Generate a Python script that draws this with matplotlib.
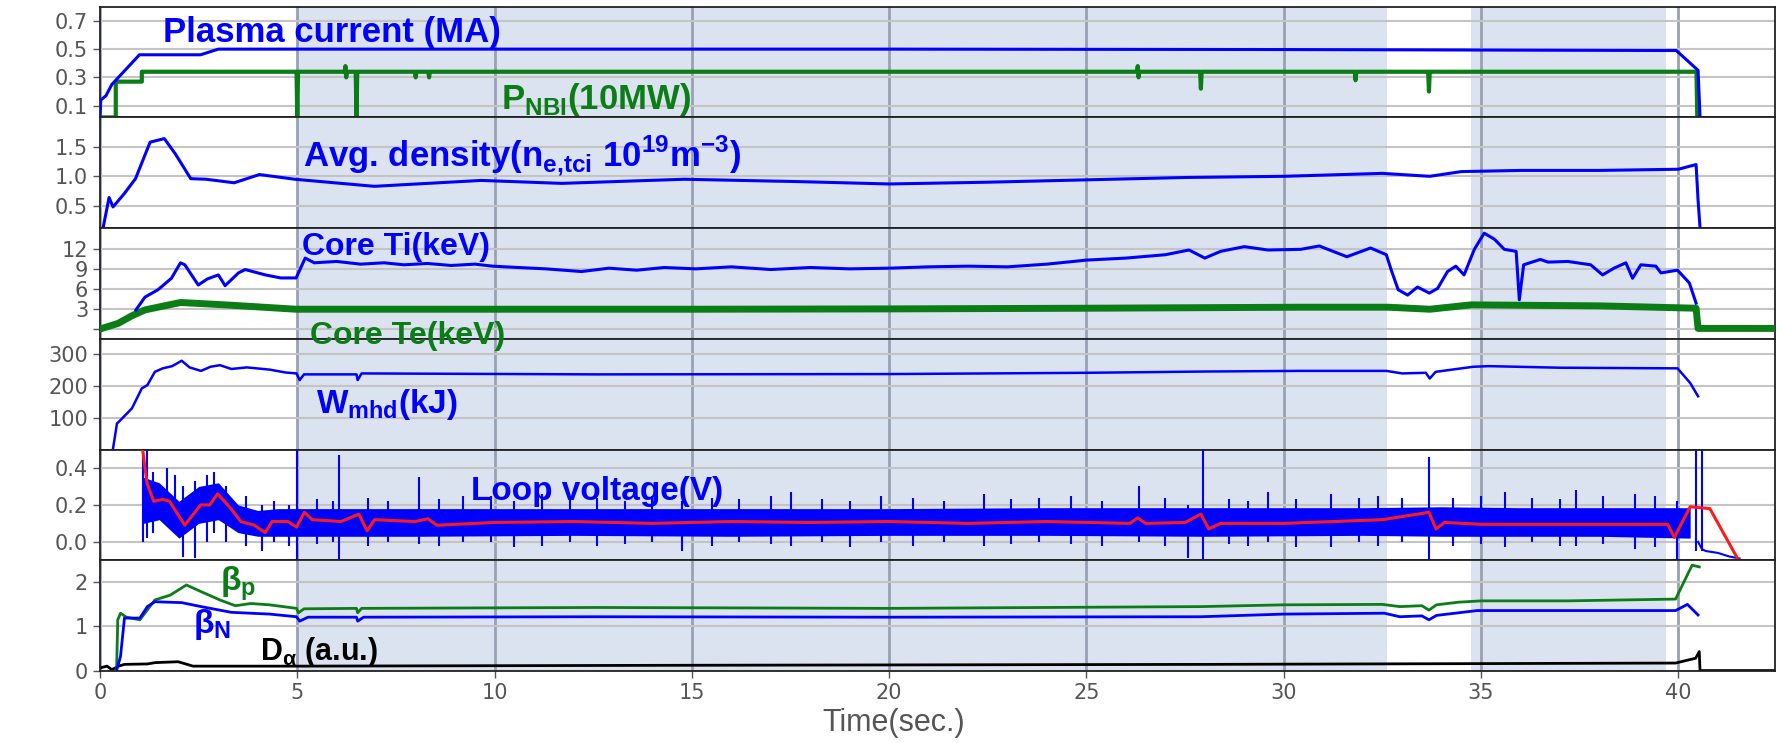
import numpy as np
import matplotlib.pyplot as plt

plt.rcParams['mathtext.fontset'] = 'custom'
plt.rcParams['mathtext.rm'] = 'Liberation Sans'
plt.rcParams['mathtext.bf'] = 'Liberation Sans:bold'

# ---- values (time in seconds) ----
# plasma current (MA)
ip_t = [0.0, 0.02, 0.15, 0.3, 1.0, 1.1, 2.55, 3.0, 10, 20, 30, 33, 39.95, 40.5, 40.55]
ip = [0.02, 0.14, 0.17, 0.25, 0.46, 0.46, 0.46, 0.5, 0.5, 0.5, 0.497, 0.495, 0.49, 0.35, 0.02]

# NBI power (10 MW)
pnbi_t = [0.0, 0.40, 0.40, 1.06, 1.06, 4.98, 5.0, 5.02, 6.2, 6.22, 6.24, 6.26,
          6.48, 6.5, 6.52, 7.98, 8.0, 8.02, 8.32, 8.34, 8.36, 26.28, 26.3, 26.32,
          26.34, 27.88, 27.9, 27.92, 31.8, 31.82, 31.84, 33.66, 33.68, 33.7, 40.46, 40.48]
pnbi = [0.017, 0.017, 0.27, 0.27, 0.34, 0.34, 0.017, 0.34, 0.34, 0.38, 0.30, 0.34,
        0.34, 0.017, 0.34, 0.34, 0.30, 0.34, 0.34, 0.30, 0.34, 0.34, 0.38, 0.30,
        0.34, 0.34, 0.22, 0.34, 0.34, 0.28, 0.34, 0.34, 0.20, 0.34, 0.34, 0.017]

# line averaged density (1e19 m^-3)
ne_t = [0.08, 0.23, 0.33, 0.62, 0.9, 1.27, 1.63, 1.91, 2.3, 2.69, 3.4, 4.04, 4.94,
        6.95, 9.66, 11.7, 14.8, 17.7, 20, 22.5, 25, 27.5, 30, 32.5, 33.7, 34.5,
        36, 38, 40, 40.45, 40.5, 40.55]
ne = [0.13, 0.64, 0.48, 0.71, 0.96, 1.58, 1.64, 1.38, 0.96, 0.95, 0.89, 1.03, 0.95,
      0.83, 0.93, 0.88, 0.95, 0.91, 0.87, 0.9, 0.94, 0.98, 1.0, 1.05, 1.0, 1.08,
      1.1, 1.1, 1.12, 1.2, 0.6, 0.13]

# core Ti (keV)
ti_t = [0.91, 1.14, 1.47, 1.81, 2.04, 2.15, 2.49, 2.72, 3.0, 3.17, 3.51, 3.68, 4.19,
        4.58, 4.97, 5.2, 5.43, 6.0, 6.6, 7.2, 7.7, 8.3, 8.9, 9.5, 9.95, 10.6, 11.3,
        12.2, 12.9, 13.6, 14.3, 15.1, 16, 17, 18, 19, 20, 21, 22, 23, 24, 25, 26,
        27, 27.6, 28.0, 28.4, 29, 29.6, 30.43, 30.9, 31.6, 32.2, 32.6, 32.72, 32.9,
        33.14, 33.39, 33.69, 33.9, 34.15, 34.36, 34.57, 34.83, 35.08, 35.34, 35.59,
        35.89, 35.97, 36.08, 36.5, 36.7, 37.2, 37.78, 38.08, 38.37, 38.67, 38.84,
        39.05, 39.43, 39.56, 39.98, 40.28, 40.45]
ti = [2.9, 4.8, 5.9, 7.6, 9.9, 9.6, 6.6, 7.5, 8.1, 6.5, 8.4, 8.9, 8.1,
      7.65, 7.65, 10.6, 9.9, 10.1, 9.7, 9.9, 9.6, 9.8, 9.5, 9.7, 9.4, 9.2, 9.0,
      8.6, 9.1, 8.8, 9.2, 9.0, 9.3, 8.9, 9.2, 9.0, 9.1, 9.3, 9.4, 9.3, 9.7, 10.3, 10.6,
      11.1, 11.8, 10.6, 11.6, 12.3, 11.8, 11.9, 12.4, 10.8, 12.1, 11.1, 8.9, 5.9,
      5.1, 6.3, 5.4, 6.1, 8.6, 9.4, 8.1, 11.9, 14.3, 13.4, 11.9,
      11.6, 4.4, 9.6, 10.4, 10.0, 10.1, 9.6, 8.1, 9.1, 9.9, 7.6,
      9.6, 9.4, 8.4, 8.8, 6.9, 3.9]

# core Te (keV)
te_t = [0.05, 0.46, 0.8, 1.14, 2.04, 3.17, 4.97, 8.8, 15, 20, 25, 30.4, 32.65,
        33.7, 34.75, 38, 40.45, 40.5, 42.45]
te = [0.15, 0.9, 2.0, 2.9, 4.0, 3.65, 3.0, 3.0, 3.0, 3.05, 3.15, 3.3, 3.3,
      3.0, 3.65, 3.5, 3.15, 0.15, 0.15]

# stored energy W_mhd (kJ)
w_t = [0.33, 0.43, 0.52, 0.81, 1.06, 1.2, 1.39, 1.59, 1.83, 2.07, 2.27, 2.56, 2.8,
       3.04, 3.33, 3.72, 4.3, 4.7, 4.98, 5.06, 5.17, 6.5, 6.53, 6.63, 12.6, 20,
       25, 28, 30.4, 32.6, 33.0, 33.6, 33.7, 33.85, 34.8, 35.2, 37, 39.98, 40.3, 40.5]
w = [3, 82, 93, 130, 193, 203, 245, 256, 263, 280, 259, 248, 261,
     266, 254, 259, 252, 243, 240, 219, 237, 237, 219, 240, 237, 238,
     242, 246, 248, 248, 240, 242, 224, 245, 261, 263, 258, 256, 210, 168]

# loop voltage (V): smoothed trace and raw-signal envelope / spikes
vl_t = [1.05, 1.19, 1.36, 1.59, 1.76, 2.15, 2.55, 2.78, 2.98, 3.28, 3.57, 3.91, 4.19,
        4.36, 4.76, 4.98, 5.18, 5.38, 6.11, 6.56, 6.77, 6.96, 7.98, 8.31, 8.54, 10,
        12, 14, 16, 18, 20, 22, 24, 26.1, 26.3, 26.5, 27.5, 27.9, 28.1, 28.4, 30,
        32.5, 33.68, 33.86, 34.07, 35, 37, 39.73, 39.9, 40.3, 40.8, 41.5]
vl = [0.55, 0.32, 0.22, 0.23, 0.22, 0.09, 0.2, 0.2, 0.26, 0.19, 0.11, 0.09, 0.05,
      0.11, 0.11, 0.08, 0.16, 0.12, 0.11, 0.15, 0.06, 0.12, 0.11, 0.125, 0.09, 0.105,
      0.11, 0.1, 0.11, 0.105, 0.11, 0.1, 0.11, 0.1, 0.13, 0.1, 0.105, 0.15, 0.07, 0.1, 0.1,
      0.12, 0.16, 0.07, 0.105, 0.095, 0.095, 0.095, 0.024, 0.19, 0.18, -0.09]
vb_t = [1.1, 1.5, 2.0, 2.5, 3.0, 3.5, 4.0, 4.5, 5.0, 8, 12, 16, 20, 24, 28, 32, 34, 36, 38, 40.3]
vb_lo = [0.1, 0.12, 0.02, 0.1, 0.12, 0.05, 0.03, 0.03, 0.03, 0.03, 0.035, 0.03, 0.035,
         0.035, 0.03, 0.035, 0.03, 0.03, 0.03, 0.02]
vb_hi = [0.35, 0.32, 0.22, 0.3, 0.32, 0.2, 0.17, 0.18, 0.18, 0.18, 0.18, 0.18, 0.18,
         0.185, 0.185, 0.185, 0.19, 0.185, 0.185, 0.185]
spk_t = [1.08, 1.2, 1.35, 1.7, 1.9, 2.1, 2.4, 2.7, 2.9, 3.2, 3.7, 4.1, 4.4, 4.8, 5.0,
         5.5, 5.9, 6.05, 6.8, 7.3, 8.09, 8.6, 9.2, 9.9, 10.5, 11.2, 11.9, 12.6, 13.3,
         14.0, 14.76, 15.5, 16.2, 17.0, 17.5, 18.3, 19.0, 19.8, 20.6, 21.4, 22.4, 23.1,
         23.8, 24.6, 25.4, 26.34, 27.0, 27.57, 27.95, 28.6, 29.1, 29.6, 30.3, 31.2,
         31.9, 32.4, 33.0, 33.69, 34.3, 35.0, 35.6, 36.3, 37.0, 37.4, 38.1, 38.9,
         39.4, 39.96, 40.45, 40.6]
spk_lo = [0.0, 0.02, 0.05, 0.1, 0.1, -0.08, -0.09, 0.0, 0.05, 0.0, -0.02, -0.05, 0.0,
          -0.02, -0.1, -0.01, 0.0, -0.1, -0.02, 0.0, -0.01, -0.02, 0.0, 0.0, -0.03,
          -0.02, 0.0, -0.02, -0.01, 0.0, -0.05, -0.02, 0.0, -0.01, -0.02, 0.0, -0.03,
          0.0, -0.02, 0.0, -0.02, -0.01, 0.0, -0.01, -0.02, 0.0, -0.02, -0.09, -0.1,
          -0.01, -0.02, 0.0, -0.03, -0.03, 0.0, -0.02, 0.0, -0.1, -0.02, -0.01, -0.03,
          0.0, -0.02, -0.02, -0.01, -0.04, -0.03, -0.1, -0.05, -0.05]
spk_hi = [0.5, 0.5, 0.38, 0.4, 0.36, 0.3, 0.33, 0.36, 0.38, 0.3, 0.25, 0.2, 0.22,
          0.2, 0.5, 0.23, 0.22, 0.47, 0.24, 0.22, 0.35, 0.23, 0.25, 0.25, 0.22, 0.26,
          0.23, 0.24, 0.22, 0.25, 0.22, 0.24, 0.23, 0.25, 0.27, 0.23, 0.22, 0.25,
          0.24, 0.22, 0.26, 0.23, 0.24, 0.25, 0.22, 0.3, 0.24, 0.2, 0.5, 0.23, 0.22,
          0.27, 0.23, 0.26, 0.24, 0.25, 0.24, 0.46, 0.24, 0.25, 0.27, 0.24, 0.23,
          0.28, 0.25, 0.26, 0.25, 0.22, 0.5, 0.5]
vtail_t = [40.5, 40.6, 40.7, 41.0, 41.3, 41.55]
vtail = [0.0, -0.04, -0.05, -0.06, -0.08, -0.09]

# beta_p, beta_N, D-alpha
bp_t = [0.42, 0.45, 0.52, 0.67, 1.01, 1.39, 1.78, 2.19, 2.56, 3.04, 3.43, 3.82, 4.3,
        4.98, 5.03, 5.17, 6.5, 6.53, 6.63, 12.6, 20, 27.9, 30, 32.5, 32.94, 33.5,
        33.68, 33.87, 34.43, 35.0, 37.2, 39.93, 40.35, 40.53]
bp = [0.0, 1.15, 1.3, 1.21, 1.15, 1.6, 1.71, 1.94, 1.79, 1.6, 1.47, 1.52, 1.49,
      1.41, 1.31, 1.4, 1.41, 1.31, 1.41, 1.43, 1.41, 1.45, 1.49, 1.5, 1.45, 1.47,
      1.37, 1.49, 1.55, 1.58, 1.58, 1.62, 2.39, 2.35]
bn_t = [0.42, 0.52, 0.62, 1.01, 1.2, 1.39, 2.07, 2.56, 3.33, 4.3, 4.98, 5.06, 5.27,
        6.5, 6.53, 6.68, 12.6, 20, 27.9, 30, 32.55, 32.94, 33.5, 33.68, 33.87, 34.9,
        39.93, 40.23, 40.5]
bn = [0.0, 0.32, 1.19, 1.19, 1.45, 1.56, 1.54, 1.45, 1.32, 1.28, 1.22, 1.12, 1.21,
      1.21, 1.12, 1.21, 1.22, 1.21, 1.22, 1.28, 1.3, 1.22, 1.24, 1.15, 1.25, 1.36,
      1.36, 1.5, 1.26]
da_t = [0.0, 0.18, 0.3, 0.47, 0.62, 1.2, 1.4, 1.98, 2.36, 5, 15, 28, 39.93, 40.44,
        40.53, 40.55, 42.45]
da = [0.06, 0.1, 0.02, 0.1, 0.14, 0.15, 0.18, 0.2, 0.1, 0.1, 0.12, 0.14, 0.17, 0.28,
      0.43, 0.0, 0.0]

shade_spans = [(5.0, 32.62), (34.75, 39.68)]

BLUE = '#0000ff'
GREEN = '#0b7d16'
RED = '#ff1a1a'
GRAY = '#555555'

fig = plt.figure(figsize=(17.77, 7.43), dpi=100)
axes = fig.subplots(6, 1, sharex=True)
fig.subplots_adjust(left=100 / 1777, right=1775 / 1777, top=1 - 6.7 / 743,
                    bottom=1 - 671 / 743, hspace=0)

ylims = [(0.017, 0.8), (0.12, 2.0), (-1.4, 15.05), (0, 349), (-0.1, 0.5), (-0.01, 2.5)]
yticks = [[0.1, 0.3, 0.5, 0.7], [0.5, 1.0, 1.5], [0, 3, 6, 9, 12], [100, 200, 300],
          [0.0, 0.2, 0.4], [0, 1, 2]]
yticklabels = [['0.1', '0.3', '0.5', '0.7'], ['0.5', '1.0', '1.5'], ['', '3', '6', '9', '12'],
               ['100', '200', '300'], ['0.0', '0.2', '0.4'], ['0', '1', '2']]

for ax, yl, yt, ytl in zip(axes, ylims, yticks, yticklabels):
    for a, b in shade_spans:
        ax.axvspan(a, b, color='#dce3f0', zorder=0, lw=0)
    ax.set_axisbelow(True)
    ax.set_ylim(*yl)
    ax.set_yticks(yt)
    ax.set_yticklabels(ytl)
    ax.grid(axis='y', color='#c4c4c4', lw=1.5)
    ax.grid(axis='x', color='#98a1b3', lw=2)
    ax.tick_params(axis='both', labelsize=15, labelcolor=GRAY, color=GRAY, length=5, width=1)
    for s in ax.spines.values():
        s.set_color('#222222')
        s.set_linewidth(1.3)

axes[-1].set_xlim(0, 42.45)
axes[-1].set_xticks(np.arange(0, 41, 5))

# panel 1
axes[0].plot(pnbi_t, pnbi, color=GREEN, lw=3, zorder=3)
axes[0].plot(ip_t, ip, color=BLUE, lw=2.2, zorder=4)
# panel 2
axes[1].plot(ne_t, ne, color=BLUE, lw=2.2)
# panel 3
axes[2].plot(te_t, te, color=GREEN, lw=5, zorder=3)
axes[2].plot(ti_t, ti, color=BLUE, lw=2.2, zorder=4)
# panel 4
axes[3].plot(w_t, w, color=BLUE, lw=1.8)
# panel 5
axes[4].fill_between(vb_t, vb_lo, vb_hi, color=BLUE, lw=0, zorder=2)
axes[4].vlines(spk_t, spk_lo, spk_hi, color=BLUE, lw=1.5, zorder=2)
axes[4].plot(vtail_t, vtail, color=BLUE, lw=1.5, zorder=2)
axes[4].plot(vl_t, vl, color=RED, lw=2.2, zorder=3)
# panel 6
axes[5].plot(da_t, da, color='black', lw=2)
axes[5].plot(bp_t, bp, color=GREEN, lw=2)
axes[5].plot(bn_t, bn, color=BLUE, lw=2)

lab = dict(family='Liberation Sans', weight='bold', va='baseline', ha='left', zorder=10)
fig.text(1.6, 0.549, 'Plasma current (MA)', color=BLUE, size=25,
         transform=axes[0].transData, **lab)
fig.text(10.16, 0.08, r'P$_{\mathbf{NBI}}$(10MW)', color=GREEN, size=25,
         transform=axes[0].transData, **lab)
fig.text(5.14, 1.19, r'Avg. density(n$_{\mathbf{e{,}tci}}$ 10$^{\mathbf{19}}$m$^{\mathbf{-3}}$)',
         color=BLUE, size=25, transform=axes[1].transData, **lab)
fig.text(5.12, 11.0, 'Core Ti(keV)', color=BLUE, size=23, transform=axes[2].transData, **lab)
fig.text(5.32, -2.1, 'Core Te(keV)', color=GREEN, size=23, transform=axes[2].transData, **lab)
fig.text(5.47, 114, r'W$_{\mathbf{mhd}}$(kJ)', color=BLUE, size=24,
         transform=axes[3].transData, **lab)
fig.text(9.4, 0.226, 'Loop voltage(V)', color=BLUE, size=24,
         transform=axes[4].transData, **lab)
fig.text(3.04, 1.81, r'β$_{\mathbf{p}}$', color=GREEN, size=24,
         transform=axes[5].transData, **lab)
fig.text(2.36, 0.85, r'β$_{\mathbf{N}}$', color=BLUE, size=24,
         transform=axes[5].transData, **lab)
fig.text(4.05, 0.24, r'D$_{\mathbf{α}}$ (a.u.)', color='black', size=22,
         transform=axes[5].transData, **lab)

fig.text(894 / 1777, 1 - 723 / 743, 'Time(sec.)', family='Liberation Sans', size=22,
         color=GRAY, ha='center', va='center')

fig.savefig('out.png', dpi=100)
